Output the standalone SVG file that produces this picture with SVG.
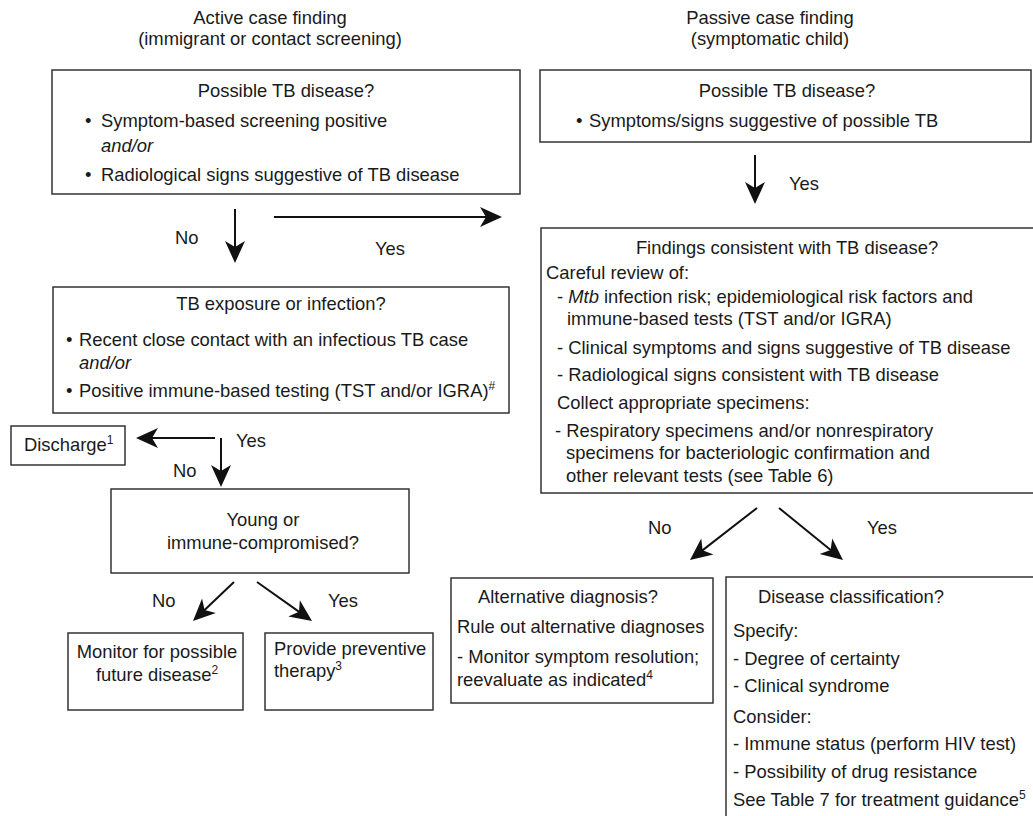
<svg xmlns="http://www.w3.org/2000/svg" width="1033" height="816" viewBox="0 0 1033 816">
<style>
text{font-family:"Liberation Sans",Arial,Helvetica,sans-serif;font-size:18.4px;fill:#1a1a1a}
.m{text-anchor:middle}
.i{font-style:italic}
.box{fill:#fff;stroke:#333;stroke-width:1.5}
.con line{stroke:#111;stroke-width:2;fill:none}
.sup{font-size:12px}
</style>
<defs>
<marker id="ah" viewBox="-16 -11 26 22" refX="0" refY="0" markerWidth="26" markerHeight="22" markerUnits="userSpaceOnUse" orient="auto">
<path d="M8,0 L-14,-10 L-8,0 L-14,10 Z" fill="#111"/>
</marker>
</defs>
<rect width="1033" height="816" fill="#fff"/>

<g id="headers">
<text class="m" x="270" y="24">Active case finding</text>
<text class="m" x="270" y="45">(immigrant or contact screening)</text>
<text class="m" x="770" y="24">Passive case finding</text>
<text class="m" x="770" y="45">(symptomatic child)</text>
</g>

<g id="possible-active">
<rect class="box" x="52" y="70" width="468" height="124"/>
<text class="m" x="286" y="97">Possible TB disease?</text>
<text x="85" y="127">•</text><text x="101" y="127">Symptom-based screening positive</text>
<text class="i" x="101" y="152">and/or</text>
<text x="85" y="181">•</text><text x="101" y="181">Radiological signs suggestive of TB disease</text>
</g>

<g id="possible-passive">
<rect class="box" x="540" y="70" width="491" height="72"/>
<text class="m" x="787" y="97">Possible TB disease?</text>
<text x="576" y="127">•</text><text x="589" y="127">Symptoms/signs suggestive of possible TB</text>
</g>

<g id="exposure">
<rect class="box" x="53" y="287" width="456" height="126"/>
<text class="m" x="281" y="310">TB exposure or infection?</text>
<text x="66" y="346">•</text><text x="79" y="346">Recent close contact with an infectious TB case</text>
<text class="i" x="79" y="369">and/or</text>
<text x="66" y="397">•</text><text x="79" y="397">Positive immune-based testing (TST and/or IGRA)<tspan class="sup" dy="-7">#</tspan></text>
</g>

<g id="findings">
<rect class="box" x="541" y="228" width="500" height="265"/>
<text class="m" x="787" y="254">Findings consistent with TB disease?</text>
<text x="546" y="279">Careful review of:</text>
<text x="557" y="303">- <tspan class="i">Mtb</tspan> infection risk; epidemiological risk factors and</text>
<text x="567" y="325">immune-based tests (TST and/or IGRA)</text>
<text x="557" y="354">- Clinical symptoms and signs suggestive of TB disease</text>
<text x="557" y="381">- Radiological signs consistent with TB disease</text>
<text x="557" y="409">Collect appropriate specimens:</text>
<text x="555" y="437">- Respiratory specimens and/or nonrespiratory</text>
<text x="566" y="459">specimens for bacteriologic confirmation and</text>
<text x="566" y="482">other relevant tests (see Table 6)</text>
</g>

<g id="discharge">
<rect class="box" x="11" y="426" width="114" height="39"/>
<text x="24" y="451">Discharge<tspan class="sup" dy="-7">1</tspan></text>
</g>

<g id="young">
<rect class="box" x="111" y="489" width="298" height="84"/>
<text class="m" x="263" y="526">Young or</text>
<text class="m" x="263" y="549">immune-compromised?</text>
</g>

<g id="monitor">
<rect class="box" x="68" y="633" width="175" height="77"/>
<text class="m" x="157" y="658">Monitor for possible</text>
<text class="m" x="157" y="681">future disease<tspan class="sup" dy="-7">2</tspan></text>
</g>

<g id="preventive">
<rect class="box" x="265" y="633" width="168" height="77"/>
<text x="274" y="655">Provide preventive</text>
<text x="274" y="677">therapy<tspan class="sup" dy="-7">3</tspan></text>
</g>

<g id="alternative">
<rect class="box" x="451" y="578" width="262" height="125"/>
<text x="478" y="603">Alternative diagnosis?</text>
<text x="457" y="633">Rule out alternative diagnoses</text>
<text x="457" y="663">- Monitor symptom resolution;</text>
<text x="457" y="686">reevaluate as indicated<tspan class="sup" dy="-7">4</tspan></text>
</g>

<g id="classification">
<rect class="box" x="726" y="577" width="320" height="260"/>
<text x="758" y="603">Disease classification?</text>
<text x="733" y="637">Specify:</text>
<text x="733" y="665">- Degree of certainty</text>
<text x="733" y="692">- Clinical syndrome</text>
<text x="733" y="723">Consider:</text>
<text x="733" y="750">- Immune status (perform HIV test)</text>
<text x="733" y="778">- Possibility of drug resistance</text>
<text x="733" y="806">See Table 7 for treatment guidance<tspan class="sup" dy="-7">5</tspan></text>
</g>

<g id="connectors" class="con">
<line x1="235" y1="209" x2="235" y2="255" marker-end="url(#ah)"/>
<line x1="274" y1="217" x2="494" y2="217" marker-end="url(#ah)"/>
<line x1="755" y1="155" x2="755" y2="196" marker-end="url(#ah)"/>
<line x1="215" y1="438" x2="144" y2="438" marker-end="url(#ah)"/>
<line x1="221" y1="438" x2="221" y2="479" marker-end="url(#ah)"/>
<line x1="234" y1="582" x2="198.8" y2="615.5" marker-end="url(#ah)"/>
<line x1="257" y1="582" x2="305.5" y2="616.4" marker-end="url(#ah)"/>
<line x1="757" y1="508" x2="696.3" y2="555.1" marker-end="url(#ah)"/>
<line x1="779" y1="508" x2="836.8" y2="555" marker-end="url(#ah)"/>
<text x="175" y="244">No</text>
<text x="375" y="255">Yes</text>
<text x="789" y="190">Yes</text>
<text x="236" y="447">Yes</text>
<text x="173" y="477">No</text>
<text x="152" y="607">No</text>
<text x="328" y="607">Yes</text>
<text x="648" y="534">No</text>
<text x="867" y="534">Yes</text>
</g>
</svg>
